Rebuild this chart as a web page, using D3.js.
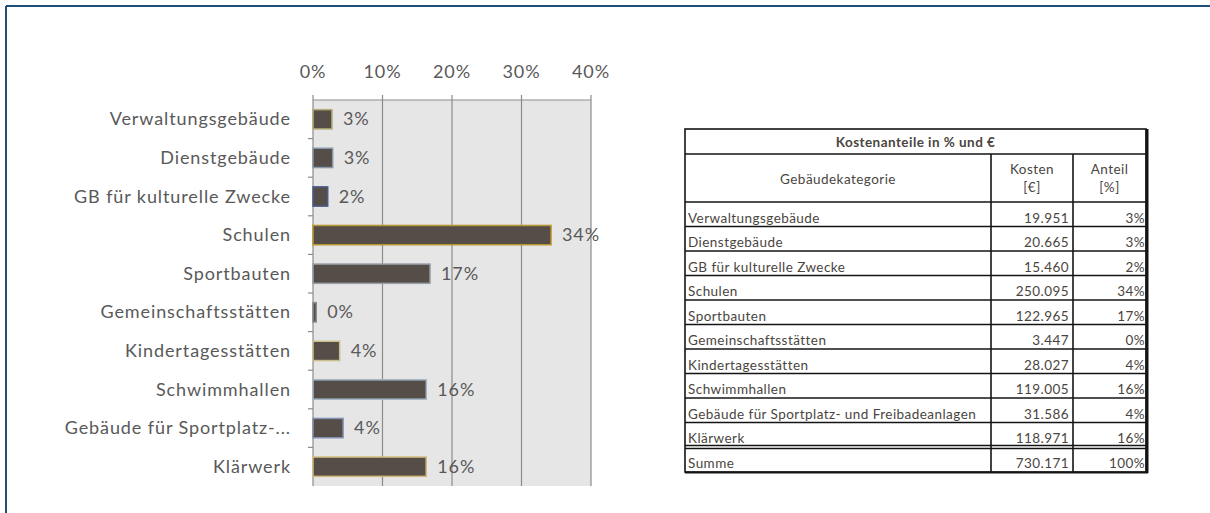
<!DOCTYPE html>
<html>
<head>
<meta charset="utf-8">
<script src="https://cdn.jsdelivr.net/npm/d3@7"></script>
<style>
  body { margin: 0; background: #fff; }
  text { font-family: Lato, "Open Sans", sans-serif; }
</style>
</head>
<body>
<svg></svg>
<script>
width = 1210;
height = 513;

// data
let categories = ["Verwaltungsgebäude", "Dienstgebäude", "GB für kulturelle Zwecke", "Schulen",
    "Sportbauten", "Gemeinschaftsstätten", "Kindertagesstätten", "Schwimmhallen",
    "Gebäude für Sportplatz- und Freibadeanlagen", "Klärwerk"];
let shortLabels = ["Verwaltungsgebäude", "Dienstgebäude", "GB für kulturelle Zwecke", "Schulen",
    "Sportbauten", "Gemeinschaftsstätten", "Kindertagesstätten", "Schwimmhallen",
    "Gebäude für Sportplatz-...", "Klärwerk"];
let costs = [19951, 20665, 15460, 250095, 122965, 3447, 28027, 119005, 31586, 118971];
let shares = [2.73, 2.83, 2.12, 34.25, 16.84, 0.47, 3.84, 16.30, 4.33, 16.29];
let total = 730171;
let xTicks = [0, 10, 20, 30, 40];
let barEdges = ["#b5ad78", "#8797a8", "#4d5b8c", "#b8982e", "#9a9ea6", "#8a8a8a",
    "#c9c08e", "#a3b3c3", "#8290b6", "#d2ba7a"];

let svg = d3.select("svg").attr("width", width).attr("height", height);

// outer frame (blue top and left edge)
svg.append("line").attr("x1", 6).attr("y1", 6).attr("x2", width).attr("y2", 6)
    .style("stroke", "#1f4e79").style("stroke-width", 2);
svg.append("line").attr("x1", 6).attr("y1", 6).attr("x2", 6).attr("y2", height)
    .style("stroke", "#1f4e79").style("stroke-width", 2);

// ---------- bar chart ----------
let x = d3.scaleLinear().domain([0, 40]).range([313, 591]);
let y = d3.scaleBand().domain(categories).range([100, 486]).paddingInner(0.5).paddingOuter(0.25);
let yb = d3.scaleBand().domain(categories).range([100, 486]);

let chart = svg.append("g");
let labStyle = sel => sel.style("font-size", "18px").style("letter-spacing", "0.9px").style("fill", "#595959");

chart.append("rect")
    .attr("x", x(0)).attr("y", 100)
    .attr("width", x(40) - x(0)).attr("height", 386)
    .style("fill", "#e6e6e6");

chart.selectAll(".grid").data(xTicks).enter().append("line")
    .attr("x1", d => x(d)).attr("x2", d => x(d))
    .attr("y1", 95).attr("y2", 486)
    .style("stroke", "#8c8c8c").style("stroke-width", 1.2);

chart.append("line").attr("x1", x(0)).attr("x2", x(40)).attr("y1", 100).attr("y2", 100)
    .style("stroke", "#8c8c8c").style("stroke-width", 1.2);

chart.selectAll(".xlab").data(xTicks).enter().append("text")
    .attr("x", d => x(d)).attr("y", 78)
    .attr("text-anchor", "middle")
    .call(labStyle)
    .text(d => d + "%");

// y ticks at band boundaries
chart.selectAll(".ytick").data(categories.slice(1)).enter().append("line")
    .attr("x1", x(0) - 5).attr("x2", x(0))
    .attr("y1", d => yb(d)).attr("y2", d => yb(d))
    .style("stroke", "#8c8c8c").style("stroke-width", 1.2);

chart.selectAll(".ylab").data(categories).enter().append("text")
    .attr("x", 291).attr("y", d => y(d) + y.bandwidth() / 2 + 6)
    .attr("text-anchor", "end")
    .call(labStyle)
    .text((d, i) => shortLabels[i]);

chart.selectAll(".bar").data(categories).enter().append("rect")
    .attr("x", x(0))
    .attr("y", d => y(d))
    .attr("width", (d, i) => x(shares[i]) - x(0))
    .attr("height", y.bandwidth())
    .style("fill", "#554e48")
    .style("stroke", (d, i) => barEdges[i])
    .style("stroke-width", 1.5);

chart.selectAll(".val").data(categories).enter().append("text")
    .attr("x", (d, i) => x(shares[i]) + 11)
    .attr("y", d => y(d) + y.bandwidth() / 2 + 6)
    .call(labStyle)
    .text((d, i) => Math.round(shares[i]) + "%");

// ---------- table ----------
let de = d3.formatLocale({decimal: ",", thousands: ".", grouping: [3], currency: ["", " €"]});
let fmt = de.format(",d");

let tx0 = 685, tx1 = 991, tx2 = 1073, tx3 = 1146;
let rowTop = 202, rowH = 24.5;
let table = svg.append("g").style("stroke", "#141414");
let tColor = "#4a4540";

function hline(yy, w) {
    table.append("line").attr("x1", tx0).attr("x2", tx3).attr("y1", yy).attr("y2", yy)
        .style("stroke-width", w);
}

table.append("rect").attr("x", tx0).attr("y", 129).attr("width", tx3 - tx0).attr("height", 472 - 129)
    .style("fill", "#fff").style("stroke-width", 1.6);
hline(154, 1.6);
hline(rowTop, 1.6);
for (let i = 1; i < categories.length; i++) hline(rowTop + i * rowH, 1.6);
hline(rowTop + 10 * rowH - 1.5, 1.3);
hline(rowTop + 10 * rowH + 1.5, 1.3);

[tx1, tx2].forEach(xx => {
    table.append("line").attr("x1", xx).attr("x2", xx).attr("y1", 154).attr("y2", 472)
        .style("stroke-width", 1.6);
});
// shadowed right and bottom edge
table.append("line").attr("x1", tx3 + 1).attr("x2", tx3 + 1).attr("y1", 129).attr("y2", 473)
    .style("stroke-width", 3);
table.append("line").attr("x1", tx0).attr("x2", tx3 + 2).attr("y1", 472.5).attr("y2", 472.5)
    .style("stroke-width", 2);

let tt = svg.append("g").style("font-size", "13.5px").style("letter-spacing", "0.45px").style("fill", tColor);

tt.append("text").attr("x", (tx0 + tx3) / 2).attr("y", 147).attr("text-anchor", "middle")
    .style("font-weight", "bold").text("Kostenanteile in % und €");
tt.append("text").attr("x", (tx0 + tx1) / 2).attr("y", 184).attr("text-anchor", "middle")
    .text("Gebäudekategorie");
tt.append("text").attr("x", (tx1 + tx2) / 2).attr("y", 174).attr("text-anchor", "middle").text("Kosten");
tt.append("text").attr("x", (tx1 + tx2) / 2).attr("y", 192).attr("text-anchor", "middle").text("[€]");
tt.append("text").attr("x", (tx2 + tx3) / 2).attr("y", 174).attr("text-anchor", "middle").text("Anteil");
tt.append("text").attr("x", (tx2 + tx3) / 2).attr("y", 192).attr("text-anchor", "middle").text("[%]");

let rows = categories.map((c, i) => ({name: c, cost: costs[i], share: Math.round(shares[i])}));
rows.push({name: "Summe", cost: total, share: 100});

let rg = tt.selectAll(".row").data(rows).enter().append("g")
    .attr("transform", (d, i) => "translate(0," + (rowTop + (i + 1) * rowH - 4) + ")");
rg.append("text").attr("x", tx0 + 3).text(d => d.name);
rg.append("text").attr("x", tx2 - 4).attr("text-anchor", "end").text(d => fmt(d.cost));
rg.append("text").attr("x", tx3 - 1).attr("text-anchor", "end").text(d => d.share + "%");
</script>
</body>
</html>
